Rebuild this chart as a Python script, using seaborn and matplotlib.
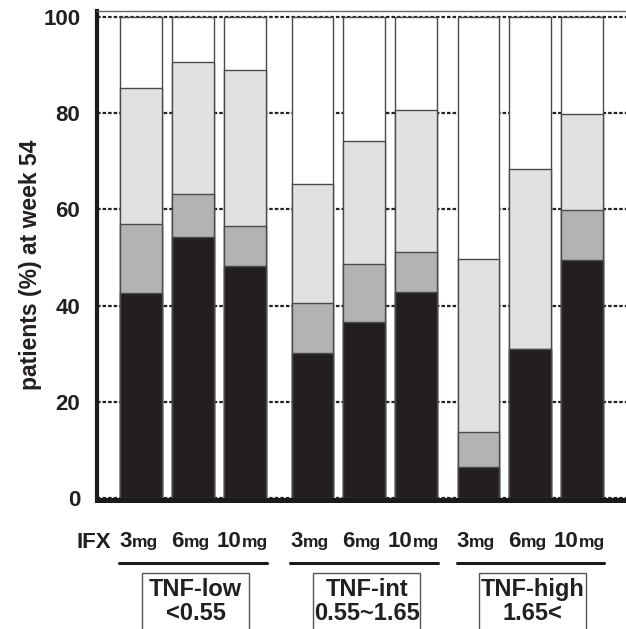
import matplotlib
matplotlib.use("Agg")
import numpy as np
import pandas as pd
import matplotlib.pyplot as plt
import matplotlib.transforms as mtransforms
from matplotlib.patches import Rectangle
from matplotlib.lines import Line2D
from matplotlib.offsetbox import TextArea, HPacker, AnnotationBbox
import seaborn as sns

# TNF groups and infliximab doses
groups = ["TNF-low", "TNF-int", "TNF-high"]
group_ranges = ["<0.55", "0.55~1.65", "1.65<"]
doses = ["3", "6", "10"]

# patients (%) at week 54 in each outcome category, stacked bottom to top
seg_black = [42.6, 54.2, 48.2, 30.2, 36.6, 42.8, 6.5, 30.9, 49.5]
seg_darkgray = [14.3, 9.1, 8.3, 10.4, 12.0, 8.4, 7.3, 0.0, 10.3]
seg_lightgray = [28.3, 27.3, 32.5, 24.7, 25.6, 29.5, 35.9, 37.5, 20.0]
seg_white = [14.8, 9.4, 11.0, 34.7, 25.8, 19.3, 50.3, 31.6, 20.2]

yticks = [0, 20, 40, 60, 80, 100]

# bar positions: three doses per group, with a wider gap between groups
group_offsets = [0.0, 3.3, 6.5]
positions = [g + i for g in group_offsets for i in range(len(doses))]

df = pd.DataFrame({
    "pos": positions,
    "black": seg_black,
    "darkgray": seg_darkgray,
    "lightgray": seg_lightgray,
    "white": seg_white,
})
df["top_black"] = df["black"]
df["top_darkgray"] = df["top_black"] + df["darkgray"]
df["top_lightgray"] = df["top_darkgray"] + df["lightgray"]
df["top_white"] = df["top_lightgray"] + df["white"]

sns.set_style("white")
plt.rcParams["font.family"] = ["Liberation Sans", "DejaVu Sans"]

W, H = 626, 629
fig = plt.figure(figsize=(W / 100, H / 100), dpi=100)
ax = fig.add_axes([97 / W, 1 - 500 / H, (W - 97) / W, (500 - 11) / H])

layers = [
    ("top_white", "#ffffff"),
    ("top_lightgray", "#e0e1e3"),
    ("top_darkgray", "#b2b3b5"),
    ("top_black", "#231f20"),
]
for col, color in layers:
    sns.barplot(data=df, x="pos", y=col, native_scale=True, color=color,
                saturation=1, width=0.8, edgecolor="#4a4a4a", linewidth=1.0,
                errorbar=None, ax=ax)

ax.set_xlim(-0.848, 9.345)
ax.set_ylim(-0.42, 101.25)
ax.set_xticks([])
ax.set_yticks(yticks)
ax.set_xlabel("")
ax.set_ylabel("")
ax.set_axisbelow(True)
ax.yaxis.grid(True, linestyle=(0, (1.6, 0.9)), color="#222222", linewidth=1.6)
ax.xaxis.grid(False)
ax.tick_params(axis="y", length=0, pad=12, labelsize=16, labelcolor="#231f20")
for lab in ax.get_yticklabels():
    lab.set_fontweight("bold")

ax.spines["left"].set_linewidth(3.0)
ax.spines["left"].set_color("#1a1a1a")
ax.spines["bottom"].set_linewidth(3.6)
ax.spines["bottom"].set_color("#1a1a1a")
ax.spines["top"].set_linewidth(1.0)
ax.spines["top"].set_color("#666666")
ax.spines["right"].set_visible(False)

fig.text(31 / W, 1 - 265 / H, "patients (%) at week 54", rotation=90,
         ha="center", va="center", fontsize=16.5, fontweight="bold",
         color="#231f20")

# dose labels under each bar
blend = mtransforms.blended_transform_factory(ax.transData, fig.transFigure)
fig.text(77 / W, 1 - 548 / H, "IFX", ha="left", va="baseline",
         fontsize=16, fontweight="bold", color="#231f20")
for p, d in zip(positions, doses * len(groups)):
    pack = HPacker(children=[
        TextArea(d, textprops=dict(fontsize=16, fontweight="bold", color="#231f20")),
        TextArea("mg", textprops=dict(fontsize=12.5, fontweight="bold", color="#231f20")),
    ], align="baseline", pad=0, sep=0)
    ab = AnnotationBbox(pack, (p - 0.05, 1 - 541.5 / H), xycoords=blend,
                        box_alignment=(0.5, 0.5), frameon=False, pad=0)
    ax.add_artist(ab)

# group underline and boxed TNF category labels
box_w = 2.06
for gi, (g, r) in enumerate(zip(groups, group_ranges)):
    gp = positions[gi * 3:(gi + 1) * 3]
    line = Line2D([gp[0] - 0.42, gp[-1] + 0.42], [1 - 563 / H] * 2,
                  transform=blend, color="#1a1a1a", linewidth=2.2,
                  clip_on=False)
    fig.add_artist(line)
    gc = float(np.mean(gp)) + 0.05
    rect = Rectangle((gc - box_w / 2, -0.05), box_w, (1 - 573 / H) + 0.05,
                     transform=blend, facecolor="none", edgecolor="#555555",
                     linewidth=1.0, clip_on=False)
    fig.add_artist(rect)
    fig.text(gc, 1 - 596 / H, g, transform=blend, ha="center",
             va="baseline", fontsize=17, fontweight="bold", color="#231f20")
    fig.text(gc, 1 - 620 / H, r, transform=blend, ha="center",
             va="baseline", fontsize=17, fontweight="bold", color="#231f20")

fig.savefig("out.png", dpi=100)
